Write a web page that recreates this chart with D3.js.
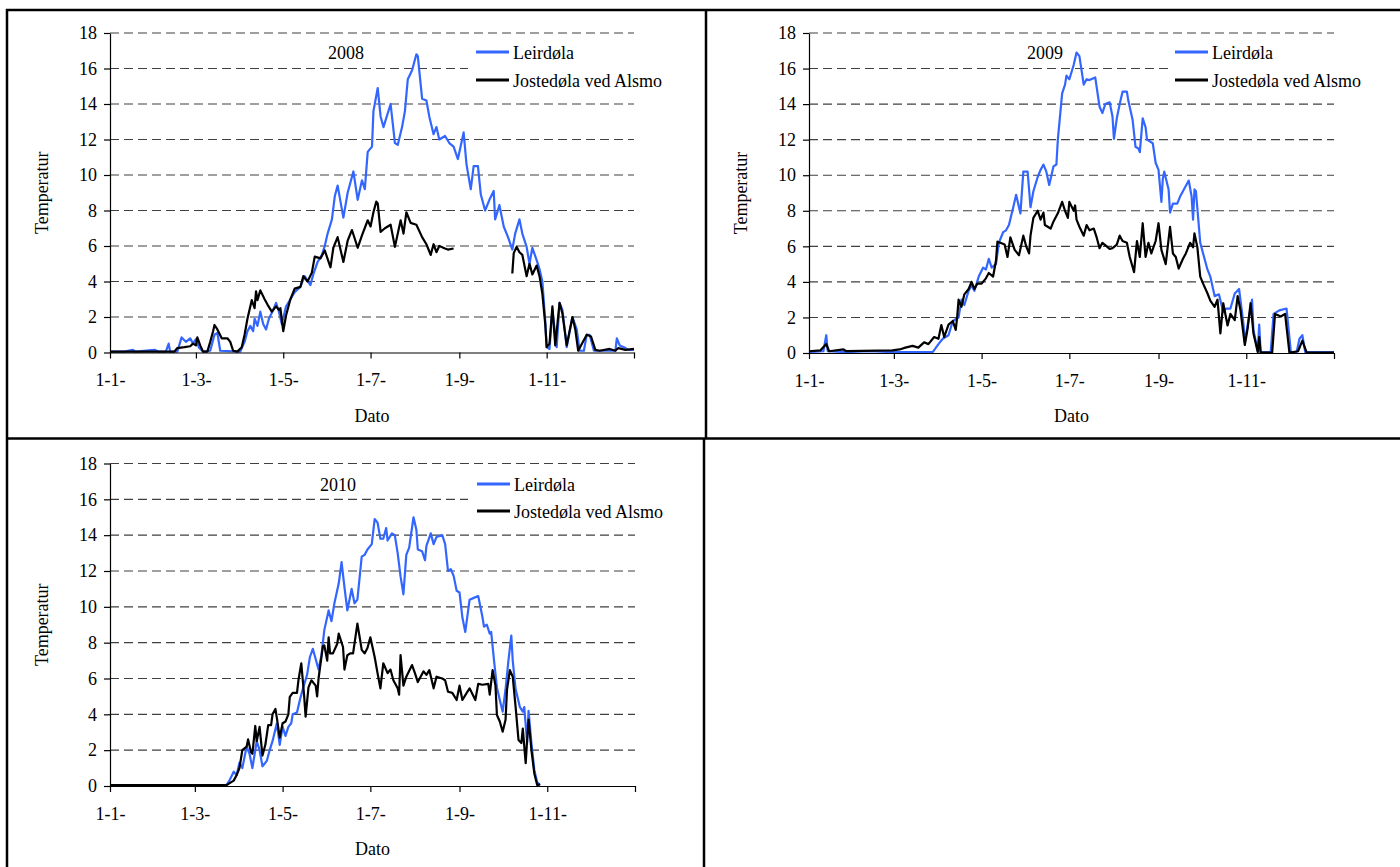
<!DOCTYPE html>
<html>
<head>
<meta charset="utf-8">
<script src="https://cdn.jsdelivr.net/npm/d3@7"></script>
<style>
  body { margin: 0; background: #fff; }
  svg { display: block; }
</style>
</head>
<body>
<svg id="chart" width="1400" height="867"></svg>
<script>
// ---- Data: [day of year (0 = 1 Jan), temperature] ----
const leir2008 = [[0,0.05],[10,0.05],[16,0.15],[18,0.05],[31,0.15],[34,0.05],[39,0.05],[41,0.5],[42,0.05],[47,0.05],[50,0.85],[53,0.6],[56,0.8],[58,0.5],[60,0.75],[62,0.3],[65,0.05],[70,0.1],[73,1.0],[75,1.1],[77,0.1],[91,0.05],[94,0.6],[96,1.2],[98,1.5],[100,1.2],[101,1.9],[103,1.5],[105,2.3],[107,1.6],[109,1.3],[111,1.9],[114,2.4],[116,2.8],[118,2.3],[120,1.6],[123,2.6],[126,3.0],[129,3.4],[133,3.7],[136,4.3],[140,3.8],[142,4.4],[145,5.1],[148,5.5],[150,6.0],[152,6.7],[155,7.5],[157,8.8],[159,9.4],[163,7.6],[166,9.0],[170,10.2],[173,8.6],[176,9.7],[178,9.2],[180,11.3],[183,11.6],[184,13.6],[187,14.9],[189,13.3],[191,12.7],[196,14.0],[199,11.8],[201,11.7],[204,12.7],[206,13.6],[208,15.4],[211,15.9],[214,16.8],[215,16.7],[218,14.3],[221,14.2],[223,13.3],[226,12.3],[228,12.7],[230,12.0],[234,12.2],[237,11.8],[240,11.6],[243,10.9],[247,12.4],[249,10.6],[252,9.2],[254,10.5],[257,10.5],[259,8.9],[262,8.0],[265,8.6],[268,9.1],[269,7.5],[272,8.3],[275,7.1],[278,6.5],[281,5.8],[283,6.7],[286,7.5],[288,6.7],[291,5.95],[293,5.0],[295,5.9],[298,5.2],[300,4.7],[302,4.0],[304,1.8],[305,0.3],[307,0.2],[309,2.4],[312,0.3],[314,2.8],[316,2.4],[319,0.3],[323,2.0],[326,1.3],[328,0.1],[331,0.1],[333,1.0],[335,1.0],[338,0.1],[353,0.1],[354,0.8],[356,0.4],[359,0.3],[362,0.15],[366,0.15]];

const jost2008 = [[0,0.05],[45,0.05],[47,0.25],[52,0.3],[56,0.35],[58,0.5],[60,0.4],[61,0.85],[63,0.4],[65,0.05],[68,0.05],[70,0.6],[72,1.2],[73,1.55],[75,1.3],[78,0.8],[82,0.8],[84,0.6],[86,0.1],[89,0.05],[92,0.3],[94,1.0],[96,1.9],[99,2.95],[101,2.5],[102,3.45],[103,2.95],[105,3.5],[108,3.0],[110,2.7],[113,2.3],[116,2.6],[118,2.4],[119,2.5],[121,1.2],[123,2.1],[126,3.0],[129,3.6],[133,3.7],[135,4.3],[138,4.0],[141,4.5],[143,5.4],[147,5.3],[150,5.75],[154,4.8],[156,5.9],[159,6.5],[163,5.1],[166,6.3],[169,6.9],[173,5.9],[176,6.6],[180,7.45],[182,7.1],[184,7.9],[186,8.5],[187,8.4],[189,6.8],[192,7.0],[196,7.2],[199,5.95],[203,7.45],[205,6.7],[207,7.9],[210,7.3],[214,7.2],[218,6.5],[221,6.1],[224,5.5],[226,6.1],[228,5.65],[230,6.0],[234,5.86],[236,5.8],[240,5.86],[241,null],[281,4.45],[282,5.6],[284,5.95],[286,5.65],[288,5.5],[291,4.3],[293,5.0],[295,4.4],[298,4.9],[300,4.3],[302,3.3],[304,1.6],[305,0.3],[307,0.5],[309,2.6],[311,0.4],[314,2.8],[316,2.2],[319,0.4],[323,2.0],[325,1.3],[327,0.1],[333,1.0],[336,0.9],[339,0.15],[342,0.1],[349,0.2],[353,0.1],[355,0.25],[360,0.15],[366,0.2]];

const leir2009 = [[0,0.05],[10,0.1],[12,1.0],[13,0.1],[25,0.05],[42,0.1],[58,0.05],[86,0.05],[90,0.5],[93,0.8],[97,1.0],[100,1.8],[104,2.0],[106,3.0],[108,2.7],[111,3.5],[113,3.8],[115,3.5],[118,4.3],[121,4.8],[123,4.7],[125,5.3],[127,4.8],[130,5.0],[132,6.2],[135,6.8],[137,6.9],[139,7.2],[142,8.2],[144,8.9],[147,7.85],[149,10.2],[152,10.2],[154,8.2],[156,9.1],[159,9.9],[161,10.3],[163,10.6],[165,10.2],[167,9.45],[170,10.5],[172,10.6],[173,12.0],[176,14.6],[178,15.1],[179,15.6],[181,15.4],[184,16.2],[186,16.9],[188,16.7],[191,15.1],[193,15.4],[195,15.35],[199,15.5],[202,13.85],[204,13.5],[206,14.0],[209,14.1],[211,13.3],[212,12.05],[214,13.2],[216,14.0],[218,14.7],[221,14.7],[222,14.2],[225,13.1],[227,11.6],[229,11.5],[230,11.3],[232,13.2],[234,12.7],[235,12.0],[239,11.8],[241,10.7],[243,10.3],[245,8.5],[246,9.8],[247,10.2],[250,9.2],[251,7.9],[253,8.4],[256,8.4],[258,8.8],[261,9.25],[264,9.7],[266,8.8],[267,7.5],[268,9.2],[269,9.1],[272,6.2],[274,5.6],[277,4.7],[279,4.3],[282,3.2],[285,3.3],[288,2.3],[290,2.5],[293,2.5],[296,3.35],[299,3.6],[302,1.67],[303,0.6],[305,1.6],[308,3.0],[309,1.3],[312,0.1],[313,1.6],[314,0.05],[321,0.05],[323,2.2],[327,2.4],[332,2.5],[333,1.7],[335,0.05],[339,0.05],[341,0.8],[343,1.0],[345,0.05],[365,0.05]];

const jost2009 = [[0,0.1],[8,0.15],[12,0.5],[14,0.1],[24,0.2],[26,0.1],[58,0.15],[63,0.2],[67,0.3],[72,0.4],[76,0.3],[80,0.6],[83,0.5],[87,0.9],[90,0.8],[92,1.57],[94,0.9],[97,1.6],[100,1.8],[102,1.3],[103,2.0],[104,3.0],[106,2.6],[108,3.3],[111,3.6],[113,4.0],[115,3.6],[117,3.9],[120,3.9],[123,4.2],[125,4.5],[128,4.3],[130,5.2],[131,6.26],[133,6.2],[136,6.1],[138,5.4],[140,6.5],[143,5.8],[146,5.5],[149,6.6],[151,6.0],[153,5.6],[154,6.6],[156,7.6],[159,8.0],[161,7.5],[163,7.9],[164,7.2],[168,7.0],[170,7.4],[173,7.86],[176,8.5],[178,8.0],[180,7.6],[181,8.5],[184,8.0],[185,8.3],[186,7.5],[188,7.1],[191,6.6],[193,7.2],[195,6.9],[198,7.0],[200,6.5],[202,5.9],[204,6.2],[207,6.0],[209,5.85],[211,5.9],[214,6.1],[216,6.6],[218,6.3],[221,6.2],[223,5.4],[226,4.55],[228,6.3],[230,5.4],[232,7.3],[234,5.4],[236,6.2],[238,5.6],[241,6.3],[243,7.3],[245,5.8],[248,5.0],[251,7.1],[253,5.6],[255,5.4],[257,4.75],[260,5.3],[262,5.6],[265,6.2],[267,5.95],[268,6.73],[270,5.95],[272,4.3],[274,3.9],[277,3.36],[279,2.95],[282,2.6],[284,3.0],[286,1.1],[288,2.8],[291,1.55],[293,2.2],[296,1.85],[298,3.2],[300,2.4],[303,0.45],[305,1.4],[307,2.8],[309,1.1],[312,0.05],[313,0.9],[314,0.02],[322,0.02],[324,2.2],[328,2.05],[331,2.2],[334,0.02],[340,0.1],[343,0.7],[346,0.02],[365,0.02]];

const leir2010 = [[0,0.05],[81,0.05],[83,0.3],[86,0.8],[88,0.6],[90,1.3],[92,1.0],[95,2.2],[97,1.8],[99,1.0],[102,2.5],[104,2.0],[106,1.1],[109,1.4],[111,2.0],[113,2.5],[116,3.5],[118,2.3],[120,3.3],[122,2.8],[124,3.3],[126,3.5],[127,4.0],[130,4.1],[132,4.8],[134,5.4],[137,6.2],[139,7.2],[141,7.66],[145,6.5],[147,7.3],[149,8.7],[152,9.8],[154,9.2],[156,10.2],[159,11.3],[161,12.5],[163,11.1],[165,9.8],[168,11.0],[170,10.2],[172,10.4],[175,12.8],[177,12.9],[179,13.2],[182,13.5],[184,14.9],[186,14.7],[188,13.8],[190,13.8],[192,14.4],[193,13.7],[196,14.1],[198,14.0],[200,13.0],[202,11.7],[204,10.7],[206,12.9],[208,13.3],[211,15.0],[213,14.3],[214,13.2],[217,13.1],[219,12.6],[220,13.4],[223,14.1],[225,13.5],[227,13.9],[231,14.0],[233,13.5],[235,12.0],[237,12.1],[239,11.7],[241,10.9],[243,10.8],[245,9.4],[247,8.6],[250,10.4],[253,10.5],[256,10.6],[259,9.4],[260,8.9],[262,9.0],[264,8.5],[265,8.6],[267,7.0],[269,5.5],[271,4.8],[273,4.15],[275,5.4],[277,7.0],[279,8.4],[280,7.0],[282,5.4],[285,4.4],[287,4.15],[288,4.4],[290,2.4],[291,4.2],[293,2.4],[295,0.9],[297,0.2],[299,0.05]];

const jost2010 = [[0,0.05],[81,0.05],[86,0.3],[88,0.6],[90,1.0],[92,2.0],[95,2.2],[96,2.6],[98,1.9],[99,1.8],[101,3.35],[102,2.5],[104,3.3],[106,1.7],[108,2.3],[110,3.4],[112,3.4],[113,4.0],[115,4.3],[116,3.8],[118,2.7],[120,3.5],[122,3.6],[124,4.0],[125,4.98],[127,5.2],[130,5.2],[131,5.9],[133,6.85],[135,5.0],[136,3.87],[138,5.5],[140,5.9],[143,5.6],[144,5.0],[145,6.0],[148,7.8],[149,7.85],[151,7.0],[152,8.3],[153,7.4],[155,7.4],[158,7.94],[159,8.5],[162,7.76],[163,6.5],[165,7.3],[167,7.4],[169,7.4],[172,9.06],[174,8.1],[175,7.6],[177,7.4],[179,7.7],[181,8.3],[184,7.2],[186,6.3],[188,5.45],[190,6.85],[193,6.3],[195,6.5],[197,5.9],[200,5.45],[201,5.1],[202,7.3],[204,5.6],[206,6.1],[210,6.75],[212,6.3],[214,5.8],[218,6.4],[220,6.2],[222,6.47],[225,5.45],[227,6.1],[231,6.0],[233,5.9],[235,5.26],[238,5.2],[241,4.8],[243,5.6],[245,4.8],[248,5.2],[250,5.45],[254,4.8],[256,5.7],[259,5.65],[263,5.7],[264,5.1],[266,6.47],[268,5.6],[269,3.96],[271,3.6],[273,3.03],[275,3.7],[276,5.36],[278,6.47],[280,6.1],[282,4.4],[284,2.57],[286,2.4],[287,3.2],[289,1.27],[290,2.57],[291,3.7],[293,2.0],[295,0.7],[297,0.05],[299,0.1]];

// ticks / labels
const yTicks = [0, 2, 4, 6, 8, 10, 12, 14, 16, 18];
const tickMonths = [0, 2, 4, 6, 8, 10, 12];          // month index, 12 = 1 Jan next year
const tickLabels = ["1-1-", "1-3-", "1-5-", "1-7-", "1-9-", "1-11-", ""];
const seriesNames = ["Leirdøla", "Jostedøla ved Alsmo"];
const seriesColors = ["#3366ff", "#000000"];

const FONT = "'Liberation Serif','Times New Roman',serif";
const svg = d3.select("#chart");

// layout per panel
const panels = [
  { year: 2008, series: [leir2008, jost2008], x0: 110, x1: 634, y0: 352.5, y1: 33,
    titleX: 346, legX: 476, legY: 52, legGap: 28, maskX: 468 },
  { year: 2009, series: [leir2009, jost2009], x0: 809, x1: 1334, y0: 353, y1: 33,
    titleX: 1045, legX: 1175, legY: 52, legGap: 28, maskX: 1168 },
  { year: 2010, series: [leir2010, jost2010], x0: 110, x1: 635, y0: 786, y1: 463.5,
    titleX: 338, legX: 477, legY: 484, legGap: 27, maskX: 468 }
];

panels.forEach(p => {
  const g = svg.append("g");
  const start = new Date(Date.UTC(p.year, 0, 1));
  const x = d3.scaleUtc()
    .domain([start, new Date(Date.UTC(p.year + 1, 0, 1))])
    .range([p.x0, p.x1]);
  const y = d3.scaleLinear().domain([0, 18]).range([p.y0, p.y1]);
  const dayDate = d => new Date(Date.UTC(p.year, 0, 1 + d));

  // dashed grid
  g.append("g").selectAll("line")
    .data(yTicks.filter(t => t > 0))
    .join("line")
      .attr("x1", p.x0).attr("x2", p.x1)
      .attr("y1", d => y(d)).attr("y2", d => y(d))
      .attr("stroke", "#404040")
      .attr("stroke-width", 1.1)
      .attr("stroke-dasharray", "9,5");

  // legend background hides grid behind it
  g.append("rect")
    .attr("x", p.maskX).attr("y", p.legY - 14)
    .attr("width", 226).attr("height", p.legGap + 28)
    .attr("fill", "#fff");

  // series
  const line = d3.line()
    .defined(d => d[1] != null)
    .x(d => x(dayDate(d[0])))
    .y(d => y(d[1]));

  p.series.forEach((s, i) => {
    g.append("path")
      .datum(s)
      .attr("d", line)
      .attr("fill", "none")
      .attr("stroke", seriesColors[i])
      .attr("stroke-width", 2.2)
      .attr("stroke-linejoin", "round");
  });

  // axes
  const xAxis = d3.axisBottom(x)
    .tickValues(tickMonths.map(m => new Date(Date.UTC(p.year, m, 1))))
    .tickFormat((d, i) => tickLabels[i])
    .tickSize(6).tickSizeOuter(0).tickPadding(15);
  const yAxis = d3.axisLeft(y)
    .tickValues(yTicks)
    .tickSize(6).tickSizeOuter(0).tickPadding(7);

  [g.append("g").attr("transform", `translate(0,${p.y0})`).call(xAxis),
   g.append("g").attr("transform", `translate(${p.x0},0)`).call(yAxis)]
    .forEach(a => {
      a.attr("font-family", FONT).attr("font-size", 18);
      a.selectAll("text").attr("fill", "#000");
      a.selectAll("path, line").attr("stroke", "#000").attr("stroke-width", 1.2);
    });

  // axis titles
  g.append("text")
    .attr("x", (p.x0 + p.x1) / 2).attr("y", p.y0 + 69)
    .attr("text-anchor", "middle")
    .attr("font-family", FONT).attr("font-size", 18)
    .text("Dato");
  g.append("text")
    .attr("transform", `translate(${p.x0 - 62},${(p.y0 + p.y1) / 2}) rotate(-90)`)
    .attr("text-anchor", "middle")
    .attr("font-family", FONT).attr("font-size", 18)
    .text("Temperatur");

  // year label
  g.append("text")
    .attr("x", p.titleX).attr("y", p.legY + 6.5)
    .attr("text-anchor", "middle")
    .attr("font-family", FONT).attr("font-size", 18)
    .text(p.year);

  // legend
  seriesNames.forEach((name, i) => {
    const ly = p.legY + i * p.legGap;
    g.append("line")
      .attr("x1", p.legX).attr("x2", p.legX + 33)
      .attr("y1", ly).attr("y2", ly)
      .attr("stroke", seriesColors[i]).attr("stroke-width", 2.8);
    g.append("text")
      .attr("x", p.legX + 37).attr("y", ly + 6.5)
      .attr("font-family", FONT).attr("font-size", 18)
      .text(name);
  });
});

// panel frames
const frame = svg.append("g").attr("stroke", "#000").attr("stroke-width", 2.5);
frame.append("line").attr("x1", 6).attr("x2", 1400).attr("y1", 10).attr("y2", 10);
frame.append("line").attr("x1", 7).attr("x2", 7).attr("y1", 9).attr("y2", 867);
frame.append("line").attr("x1", 706).attr("x2", 706).attr("y1", 9).attr("y2", 439);
frame.append("line").attr("x1", 704).attr("x2", 704).attr("y1", 438).attr("y2", 867);
frame.append("line").attr("x1", 6).attr("x2", 1400).attr("y1", 438.5).attr("y2", 438.5);
</script>
</body>
</html>
